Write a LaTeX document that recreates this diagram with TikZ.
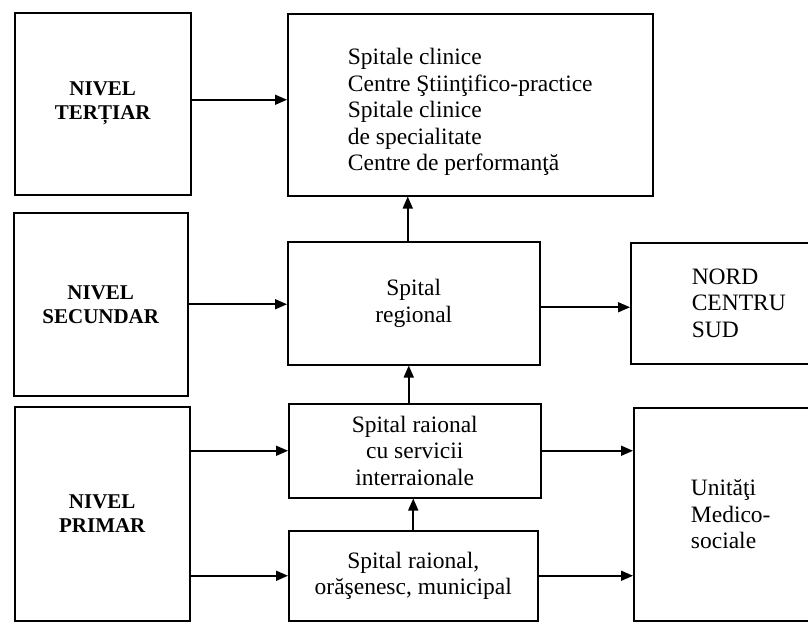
\documentclass[tikz,border=0pt]{standalone}
\usepackage{fontspec}
\setmainfont{Liberation Serif}
\usetikzlibrary{arrows.meta}
\begin{document}
\begin{tikzpicture}[x=1pt,y=-1pt,
  box/.style={draw, line width=1.5pt, rectangle, inner sep=0pt, anchor=north west},
  txt/.style={font=\fontsize{23.5}{26.5}\selectfont, align=left},
  txtc/.style={font=\fontsize{23.5}{26.5}\selectfont, align=center},
  lvl/.style={font=\fontsize{21}{24}\selectfont\bfseries, align=center},
  arr/.style={line width=1.6pt, -{Triangle[length=12pt,width=10pt]}}]
\useasboundingbox (0,0) rectangle (808,622);
\clip (0,0) rectangle (808,622);
\fill[white] (0,0) rectangle (808,622);
% level boxes
\node[box, lvl, minimum width=176pt, minimum height=182pt] (t3) at (14,12) {NIVEL\\TERȚIAR};
\node[box, lvl, minimum width=174pt, minimum height=183pt] (s2) at (13,212) {NIVEL\\SECUNDAR};
\node[box, lvl, minimum width=175pt, minimum height=214pt] (p1) at (14,406) {NIVEL\\PRIMAR};
% middle column
\node[box, txt, minimum width=365pt, minimum height=182pt] (top) at (287,13) {\rule{0pt}{31pt}Spitale clinice\\Centre Ştiinţifico-practice\\Spitale clinice\\de specialitate\\Centre de performanţă};
\node[box, txtc, minimum width=252pt, minimum height=123pt] (reg) at (287,241) {Spital\\regional};
\node[box, txtc, minimum width=252pt, minimum height=94pt] (rai) at (288,403) {Spital raional\\cu servicii\\interraionale};
\node[box, txtc, minimum width=249pt, minimum height=90pt] (ora) at (288,530) {Spital raional,\\orăşenesc, municipal};
% right column
\node[box, txt, minimum width=216pt, minimum height=121pt] (nord) at (630,242) {NORD\\CENTRU\\SUD};
\node[box, txt, minimum width=194pt, minimum height=213pt] (unit) at (633,407) {Unităţi\\Medico-\\sociale};
% connectors
\draw[arr] ([yshift=4pt]t3.east) -- ([yshift=4pt]t3.east -| top.west);
\draw[arr] (s2.east) -- (s2.east -| reg.west);
\draw[arr] ([yshift=-4pt]reg.east) -- ([yshift=-4pt]reg.east -| nord.west);
\draw[arr] ([xshift=-6pt]reg.north) -- ([xshift=-6pt]reg.north |- top.south);
\draw[arr] ([xshift=-6pt]rai.north) -- ([xshift=-6pt]rai.north |- reg.south);
\draw[arr] (ora.north) -- (ora.north |- rai.south);
\draw[arr] (p1.east |- rai.west) -- (rai.west);
\draw[arr] (p1.east |- ora.west) -- (ora.west);
\draw[arr] (rai.east) -- (rai.east -| unit.west);
\draw[arr] (ora.east) -- (ora.east -| unit.west);
\end{tikzpicture}
\end{document}
